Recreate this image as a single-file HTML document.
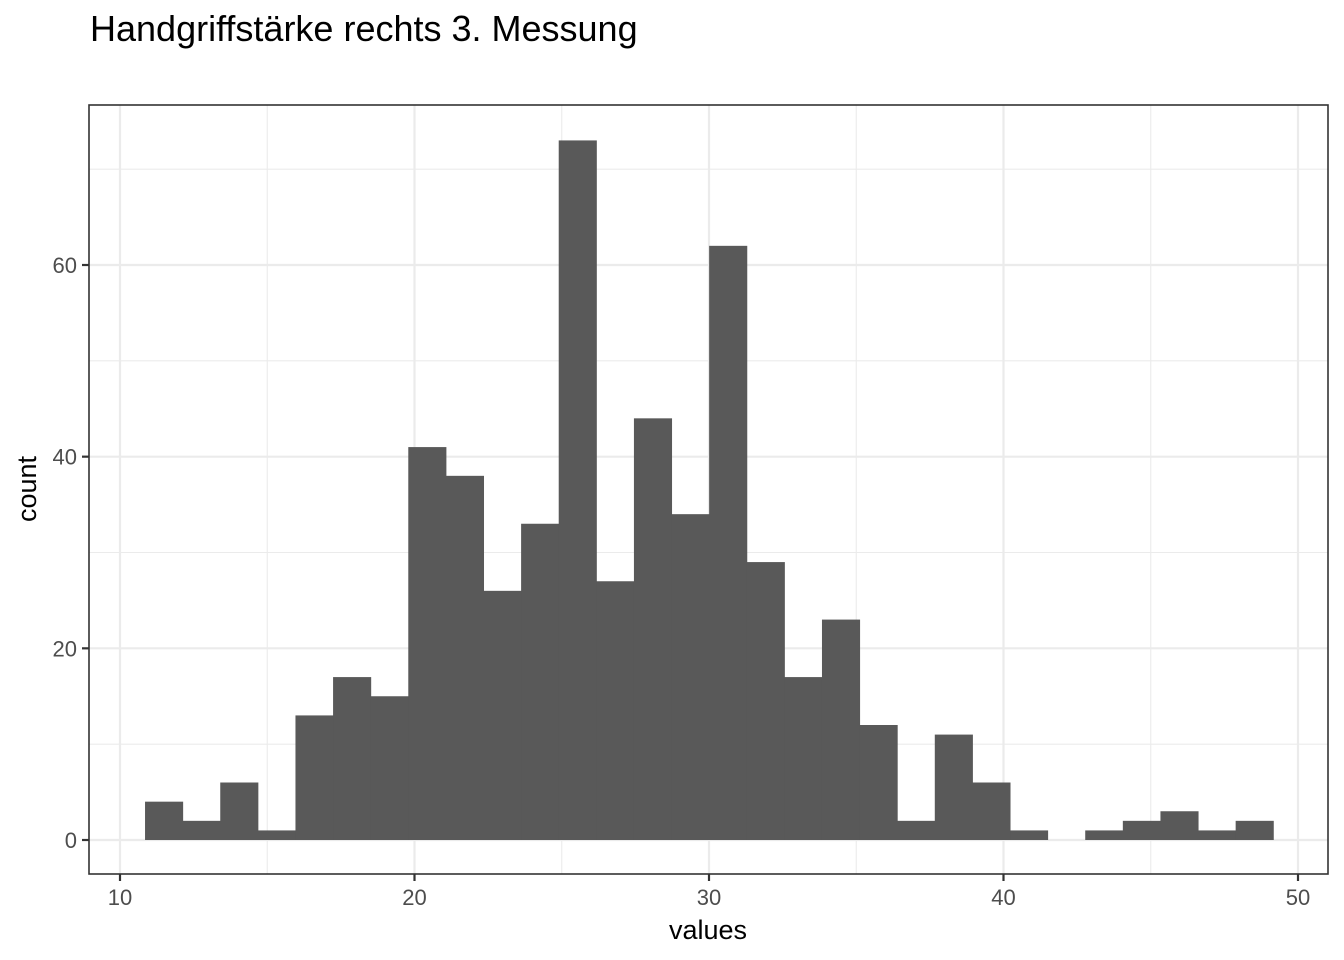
<!DOCTYPE html>
<html><head><meta charset="utf-8"><style>
html,body{margin:0;padding:0;background:#fff;}
svg{display:block;font-family:"Liberation Sans",Arial,sans-serif;}
</style></head><body>
<svg id="chart" width="1344" height="960" viewBox="0 0 1344 960">
<text x="90" y="41" font-size="36" fill="#000">Handgriffstärke rechts 3. Messung</text>
<rect x="89" y="105" width="1239" height="769" fill="#fff"/>
<g id="grid"></g>
<g id="bars"></g>
<rect x="89" y="105" width="1239" height="769" fill="none" stroke="#333" stroke-width="1.6"/>
<g id="axes"></g>
<text x="708" y="939" font-size="27" text-anchor="middle" fill="#000">values</text>
<text transform="translate(36,489) rotate(-90)" font-size="27" text-anchor="middle" fill="#000">count</text>
</svg>
<script>
const counts = [4,2,6,1,13,17,15,41,38,26,33,73,27,44,34,62,29,17,23,12,2,11,6,1,0,1,2,3,1,2];
const binStart = 10.85;
const binWidth = 1.277;
const xTicks = [10,20,30,40,50];
const xMinor = [15,25,35,45];
const yTicks = [0,20,40,60];
const yMinor = [10,30,50,70];

const NS = "http://www.w3.org/2000/svg";
const xs = v => 120 + (v - 10) * (1178 / 40);
const ys = v => 840 - v * (575 / 60);
const L = 89, R = 1328, T = 105, B = 874;

function mk(tag, attrs, parent) {
  const e = document.createElementNS(NS, tag);
  for (const k in attrs) e.setAttribute(k, attrs[k]);
  parent.appendChild(e);
  return e;
}
const grid = document.getElementById('grid');
xMinor.forEach(v => {
  const l = mk('line', {x1: xs(v), x2: xs(v), y1: T, y2: B, stroke: '#ebebeb', 'stroke-width': 1.1}, grid);
  
  
});
yMinor.forEach(v => {
  const l = mk('line', {x1: L, x2: R, y1: ys(v), y2: ys(v), stroke: '#ebebeb', 'stroke-width': 1.1}, grid);
  
  
});
xTicks.forEach(v => {
  const l = mk('line', {x1: xs(v), x2: xs(v), y1: T, y2: B, stroke: '#ebebeb', 'stroke-width': 2.2}, grid);
  
  
});
yTicks.forEach(v => {
  const l = mk('line', {x1: L, x2: R, y1: ys(v), y2: ys(v), stroke: '#ebebeb', 'stroke-width': 2.2}, grid);
  
  
});
const bars = document.getElementById('bars');
counts.forEach((c, i) => {
  const x0 = xs(binStart + i * binWidth), x1 = xs(binStart + (i + 1) * binWidth);
  const r = mk('rect', {x: x0, y: ys(c), width: x1 - x0 + 0.5, height: ys(0) - ys(c), fill: '#595959'}, bars);
  
  
});
const axes = document.getElementById('axes');
xTicks.forEach(v => {
  const t = mk('line', {x1: xs(v), x2: xs(v), y1: B, y2: B + 7, stroke: '#333', 'stroke-width': 2.2}, axes);
  
  
  const tx = mk('text', {x: xs(v), y: B + 31, 'font-size': 22, 'text-anchor': 'middle', fill: '#4d4d4d'}, axes);
  tx.textContent = v;
  
  
});
yTicks.forEach(v => {
  const t = mk('line', {x1: L - 7, x2: L, y1: ys(v), y2: ys(v), stroke: '#333', 'stroke-width': 2.2}, axes);
  
  
  const tx = mk('text', {x: L - 12, y: ys(v) + 8, 'font-size': 22, 'text-anchor': 'end', fill: '#4d4d4d'}, axes);
  tx.textContent = v;
  
  
});
</script>
</body></html>
